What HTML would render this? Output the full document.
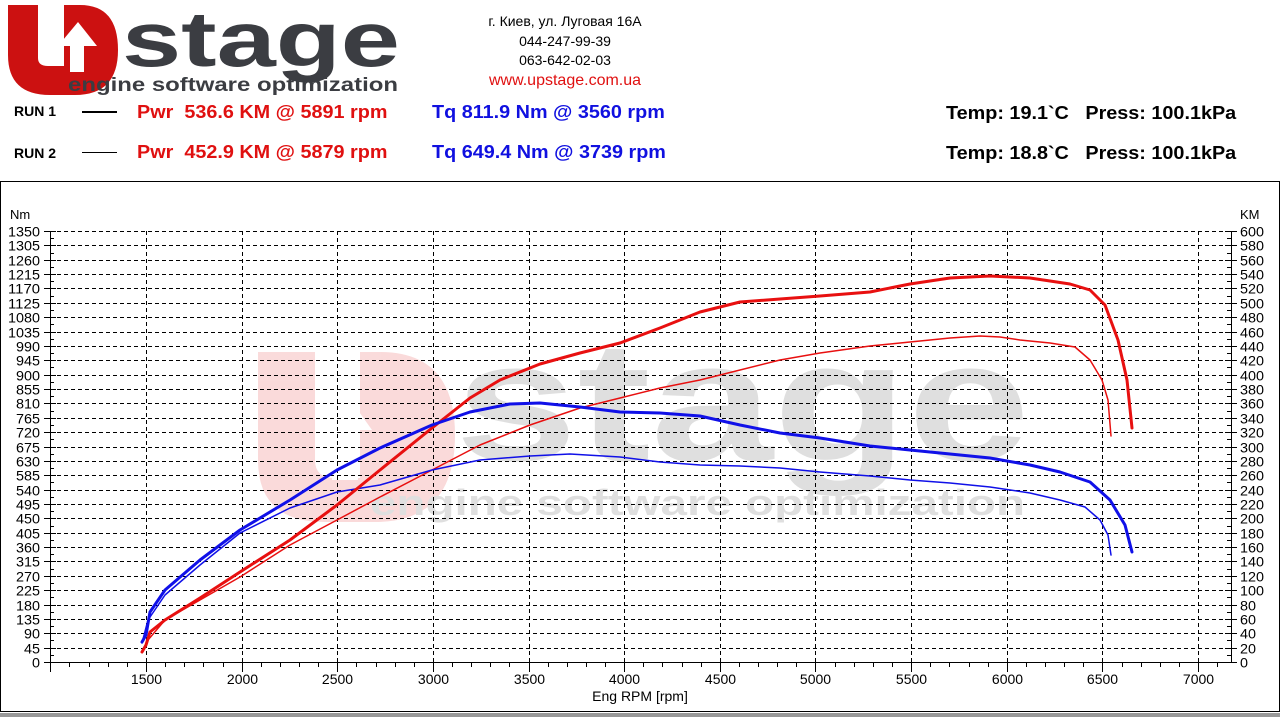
<!DOCTYPE html>
<html><head><meta charset="utf-8"><style>
body{margin:0;width:1280px;height:720px;background:#fff;overflow:hidden;font-family:"Liberation Sans",Arial,sans-serif;position:relative}
.a{position:absolute;white-space:nowrap}
.b{font-weight:bold;font-size:18px;transform:scaleX(1.1);transform-origin:0 0}
</style></head><body>
<svg class="a" style="left:0;top:0" width="410" height="100">
<path d="M8,5 H38 V58 Q38,66 48,66 H64 V5 H80 Q118,5 118,50 Q118,95 75,95 H50 Q8,95 8,55 Z" fill="#cc1111"/>
<path d="M70,72 V46 H58 L78,22 L97,46 H84 V72 Z" fill="#fff"/>
<text x="122" y="66" font-family="Liberation Sans" font-weight="bold" font-size="78" fill="#3b3d42" textLength="278" lengthAdjust="spacingAndGlyphs">stage</text>
<text x="68" y="91" font-family="Liberation Sans" font-weight="bold" font-size="19" fill="#3b3d42" textLength="330" lengthAdjust="spacingAndGlyphs">engine software optimization</text>
</svg>
<div class="a" style="left:470px;top:12px;font-size:14px;width:190px;text-align:center;line-height:19.5px">г. Киев, ул. Луговая 16А<br>044-247-99-39<br>063-642-02-03<br><span style="color:#e01010;font-size:16px">www.upstage.com.ua</span></div>
<div class="a" style="left:14px;top:103px;font-size:14px;font-weight:bold">RUN 1</div>
<div class="a" style="left:82px;top:111px;width:35px;height:2px;background:#000"></div>
<div class="a" style="left:14px;top:145px;font-size:14px;font-weight:bold">RUN 2</div>
<div class="a" style="left:82px;top:152px;width:35px;height:1px;background:#000"></div>
<div class="a b" style="left:137px;top:102px;color:#e01010">Pwr&nbsp; 536.6 KM @ 5891 rpm</div>
<div class="a b" style="left:137px;top:142px;color:#e01010">Pwr&nbsp; 452.9 KM @ 5879 rpm</div>
<div class="a b" style="left:432px;top:102px;color:#1010e0">Tq 811.9 Nm @ 3560 rpm</div>
<div class="a b" style="left:432px;top:142px;color:#1010e0">Tq 649.4 Nm @ 3739 rpm</div>
<div class="a b" style="left:946px;top:103px">Temp: 19.1`C&nbsp;&nbsp; Press: 100.1kPa</div>
<div class="a b" style="left:946px;top:143px">Temp: 18.8`C&nbsp;&nbsp; Press: 100.1kPa</div>
<svg class="a" style="left:0;top:0" width="1280" height="720" id="s">
<rect x="0.5" y="181.5" width="1279" height="530" fill="none" stroke="#000"/>
<rect x="0" y="713" width="1280" height="4" fill="#999"/>
<g opacity="0.15">
<path d="M258,352 H315 V460 Q315,478 335,478 H360 V352 H380 Q455,352 455,435 Q455,522 375,522 H325 Q258,522 258,460 Z" fill="#e01010"/>
<path d="M332,480 V430 H318 L345,392 L372,430 H358 V480 Z" fill="#fff"/>
<text x="455" y="460" font-family="Liberation Sans" font-weight="bold" font-size="170" fill="#333" textLength="575" lengthAdjust="spacingAndGlyphs">stage</text>
<text x="370" y="515" font-family="Liberation Sans" font-weight="bold" font-size="36" fill="#333" textLength="655" lengthAdjust="spacingAndGlyphs">engine software optimization</text>
</g>
<g id="g"></g>
<g fill="none" stroke-linejoin="round" stroke-linecap="round">
<polyline stroke="#e81010" stroke-width="1.5" points="142,652 148,640 165,620 200,600 240,577 290,545 337,520 380,497 432,470 480,445 530,425 580,408 620,398 660,388 700,380 740,370 780,360 820,353 870,346 910,342 950,338 980,336 1000,337 1020,340 1050,343 1075,347 1090,360 1102,380 1108,400 1111,436"/>
<polyline stroke="#1010e8" stroke-width="1.5" points="142,643 148,620 165,595 200,565 240,533 290,508 337,492 380,485 432,470 480,460 530,456 570,454 620,457 660,462 700,465 740,466 780,468 820,472 870,476 910,480 950,483 990,487 1030,493 1060,500 1085,507 1100,520 1108,535 1111,555"/>
<polyline stroke="#e81010" stroke-width="3" points="142,652 146,645 150,632 165,620 200,598 240,572 290,540 337,505 380,470 432,428 470,398 500,380 540,364 580,353 620,343 660,328 700,312 740,302 780,299 820,296 870,292 910,284 950,278 990,276 1030,278 1070,284 1090,290 1105,305 1118,340 1127,380 1132,428"/>
<polyline stroke="#1010e8" stroke-width="3" points="142,642 146,635 150,612 165,590 200,560 240,530 290,500 337,470 380,448 432,425 470,412 510,404 540,403 580,407 620,412 660,413 700,416 740,425 780,433 820,438 870,446 910,450 950,454 990,458 1030,465 1060,472 1090,482 1110,500 1125,525 1132,552"/>
</g>
</svg>
<script>
var g=document.getElementById('g'),h='';
var y0=662,sc=431/1350;
h+='<line x1="50.5" y1="231" x2="50.5" y2="663" stroke="#000"/><line x1="1231.5" y1="231" x2="1231.5" y2="663" stroke="#000"/><line x1="50" y1="662.5" x2="1232" y2="662.5" stroke="#000"/>';
for(var i=0;i<=30;i++){var y=Math.round(y0-i*45*sc)+.5;
 if(i>0)h+='<line x1="50" y1="'+y+'" x2="1231" y2="'+y+'" stroke="#000" stroke-dasharray="4,3"/>';
 h+='<line x1="44" y1="'+y+'" x2="56" y2="'+y+'" stroke="#000"/><line x1="1225" y1="'+y+'" x2="1237" y2="'+y+'" stroke="#000"/>';
 if(i<30){var ym=Math.round(y0-(i+.5)*45*sc)+.5;h+='<line x1="50" y1="'+ym+'" x2="54" y2="'+ym+'" stroke="#000"/><line x1="1227" y1="'+ym+'" x2="1231" y2="'+ym+'" stroke="#000"/>';}
 h+='<text x="40" y="'+(y+5)+'" text-anchor="end" font-size="14" font-family="Liberation Sans" textLength="'+(String(i*45).length*8)+'" lengthAdjust="spacingAndGlyphs">'+(i*45)+'</text>';
 h+='<text x="1240" y="'+(y+5)+'" font-size="14" font-family="Liberation Sans" textLength="'+(String(i*20).length*8)+'" lengthAdjust="spacingAndGlyphs">'+(i*20)+'</text>';}
h+='<text x="10" y="219" font-size="13" font-family="Liberation Sans">Nm</text><text x="1240" y="219" font-size="13" font-family="Liberation Sans">KM</text>';
for(var r=1000;r<=7150;r+=100){var x=Math.round(146+(r-1500)*0.19128)+.5;
 if(r%500==0){h+='<line x1="'+x+'" y1="662" x2="'+x+'" y2="672" stroke="#000"/>';
  if(r>=1500){h+='<line x1="'+x+'" y1="231" x2="'+x+'" y2="662" stroke="#000" stroke-dasharray="4,3"/><text x="'+x+'" y="684" text-anchor="middle" font-size="14" font-family="Liberation Sans">'+r+'</text>';}}
 else h+='<line x1="'+x+'" y1="662" x2="'+x+'" y2="667" stroke="#000"/>';}
h+='<text x="640" y="701" text-anchor="middle" font-size="14" font-family="Liberation Sans">Eng RPM [rpm]</text>';
g.innerHTML=h;
</script>
</body></html>
